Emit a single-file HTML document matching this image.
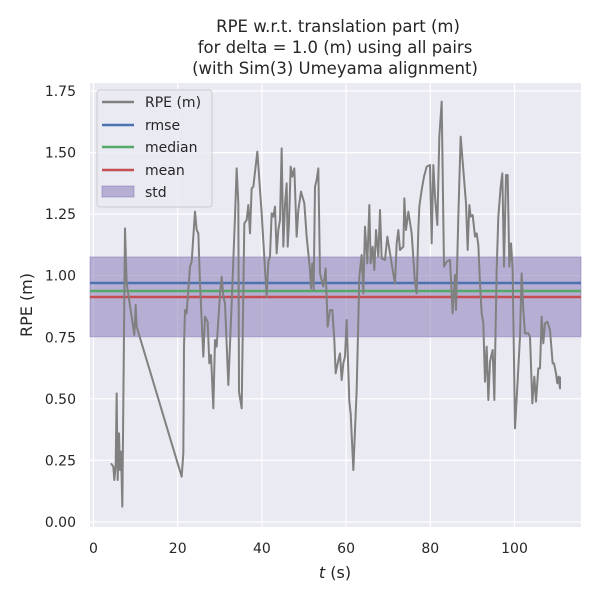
<!DOCTYPE html>
<html><head><meta charset="utf-8"><style>body{margin:0;background:#fff}svg{display:block}</style></head><body>
<svg width="600" height="600" xmlns="http://www.w3.org/2000/svg" font-family="DejaVu Sans, Liberation Sans, sans-serif" fill="#262626">
<rect x="90" y="83" width="491" height="444" fill="#eaeaf2"/>
<g stroke="#fff" stroke-width="1.2">
<line x1="93.5" y1="83" x2="93.5" y2="527"/><line x1="177.7" y1="83" x2="177.7" y2="527"/><line x1="261.9" y1="83" x2="261.9" y2="527"/><line x1="346.1" y1="83" x2="346.1" y2="527"/><line x1="430.3" y1="83" x2="430.3" y2="527"/><line x1="514.5" y1="83" x2="514.5" y2="527"/>
<line x1="90" y1="522" x2="581" y2="522"/><line x1="90" y1="460.4" x2="581" y2="460.4"/><line x1="90" y1="398.8" x2="581" y2="398.8"/><line x1="90" y1="337.3" x2="581" y2="337.3"/><line x1="90" y1="275.7" x2="581" y2="275.7"/><line x1="90" y1="214.1" x2="581" y2="214.1"/><line x1="90" y1="152.6" x2="581" y2="152.6"/><line x1="90" y1="91" x2="581" y2="91"/>
</g>
<rect x="90" y="257" width="491" height="80" fill="#8172b3" fill-opacity="0.5" stroke="#8172b3" stroke-opacity="0.5"/>
<line x1="90" y1="283" x2="581" y2="283" stroke="#4c72b0" stroke-width="2.5"/>
<line x1="90" y1="291" x2="581" y2="291" stroke="#55a868" stroke-width="2.5"/>
<line x1="90" y1="297" x2="581" y2="297" stroke="#c44e52" stroke-width="2.5"/>
<g fill="none" stroke="#808080" stroke-width="6" stroke-linejoin="round">
<polyline transform="translate(85,70) scale(0.33333)" points="78,1180 85,1190 88,1230 92,1185 95,970 98,1230 102,1090 105,1200 108,1145 112,1310 120,475 125,640 140,740 148,795 152,705 155,770 290,1220 295,1150 297,830 300,720 305,730 310,660 315,590 320,575 330,425 335,480 340,490 345,640 355,860 360,740 368,755 373,880 378,855 385,1015 390,810 395,830 405,670 410,620 415,680 420,700 430,945 440,700 450,440 455,295 460,400 462,965 470,1015 478,460 485,450 490,405 495,490 500,355 505,350 517,245 530,430 545,680 550,575 555,560 560,430 565,440 570,410 575,550 580,480 585,450 590,235 595,530 600,405 605,340 608,530 612,460 617,290 622,320 628,295 635,500 640,420 648,365 658,400 665,500 675,600 678,655 682,580 686,660 690,350 695,330 700,295 705,610 715,650 722,595 728,770 735,720 742,720 748,810 752,910 758,880 765,850 770,930 775,880 780,860"/>
<polyline transform="translate(330,70) scale(0.33333)" points="45,860 50,750 58,995 62,1030 70,1200 80,960 88,620 95,555 100,670 105,470 112,580 118,405 122,580 128,530 133,600 138,480 145,560 150,420 155,565 165,570 172,500 180,550 188,600 195,640 200,520 205,480 210,540 220,530 223,385 228,480 235,425 245,490 255,640 260,670 265,480 268,410 275,360 282,320 290,290 300,285 305,520 310,285 315,380 322,465 328,200 335,95 342,590 350,575 360,570 368,730 375,615 378,720 385,440 392,200 400,300 408,400 413,540 418,405 422,440 428,435 435,500 440,490 445,525 450,640 455,730 460,760 465,935 470,830 475,990 480,875 488,840 493,990 500,600 505,440 512,350 517,310 522,590 528,315 533,315 538,590 543,520 548,600 555,1075 562,950 570,800 575,610 580,720 585,790 595,790 600,800 607,1000 613,920 618,995 625,895 630,895 635,740 640,820 645,760 652,755 660,780 668,880 672,880 678,910 682,940 686,920 690,955 690,920"/>
</g>
<rect x="97" y="90" width="115" height="117" rx="3" fill="#eaeaf2" fill-opacity="0.85" stroke="#cccccc"/>
<g stroke-width="2.5"><line x1="102" y1="102" x2="134" y2="102" stroke="#808080"/><line x1="102" y1="125" x2="134" y2="125" stroke="#4c72b0"/><line x1="102" y1="147" x2="134" y2="147" stroke="#55a868"/><line x1="102" y1="170" x2="134" y2="170" stroke="#c44e52"/></g>
<rect x="102" y="186" width="32" height="11" fill="#8172b3" fill-opacity="0.5" stroke="#8172b3" stroke-opacity="0.5"/>
<g font-size="14"><text x="145" y="107">RPE (m)</text><text x="145" y="130">rmse</text><text x="145" y="152">median</text><text x="145" y="175">mean</text><text x="145" y="197">std</text></g>
<g font-size="14" text-anchor="middle"><text x="93.5" y="553">0</text><text x="177.7" y="553">20</text><text x="261.9" y="553">40</text><text x="346.1" y="553">60</text><text x="430.3" y="553">80</text><text x="514.5" y="553">100</text></g>
<g font-size="14" text-anchor="end"><text x="76" y="527">0.00</text><text x="76" y="465.4">0.25</text><text x="76" y="403.8">0.50</text><text x="76" y="342.3">0.75</text><text x="76" y="280.7">1.00</text><text x="76" y="219.1">1.25</text><text x="76" y="157.6">1.50</text><text x="76" y="96">1.75</text></g>
<text x="335" y="578" font-size="16" text-anchor="middle"><tspan font-style="italic">t</tspan> (s)</text>
<text transform="translate(32,305) rotate(-90)" font-size="16" text-anchor="middle">RPE (m)</text>
<g font-size="16.5" text-anchor="middle"><text x="338" y="32">RPE w.r.t. translation part (m)</text><text x="335" y="53">for delta = 1.0 (m) using all pairs</text><text x="335" y="74">(with Sim(3) Umeyama alignment)</text></g>
</svg>
</body></html>
